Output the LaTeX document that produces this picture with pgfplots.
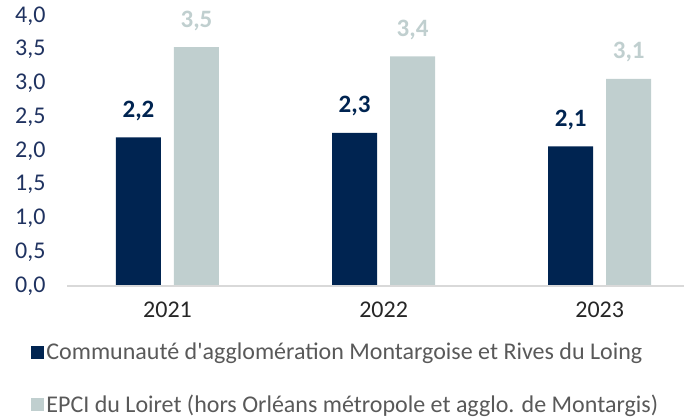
\documentclass[border=0pt]{standalone}
\usepackage{pgfplots}
\pgfplotsset{compat=1.18}
\usepackage{fontspec}
\setmainfont{Carlito}[Ligatures=TeXOff]
\definecolor{navy}{HTML}{002451}
\definecolor{lightb}{HTML}{C0CFCF}
\definecolor{ytc}{HTML}{1F3260}
\definecolor{legt}{HTML}{595959}
\definecolor{axl}{HTML}{D9D9D9}
\begin{document}
\begin{tikzpicture}
\begin{axis}[
  at={(67pt,133pt)}, anchor=south west,
  scale only axis, width=617pt, height=270pt,
  xmin=-0.465, xmax=2.39, ymin=0, ymax=4,
  axis line style={draw=none},
  axis x line*=bottom, axis y line*=left,
  ytick={0,0.5,...,4.0},
  xtick={0,1,2}, xticklabels={2021,2022,2023},
  major tick length=0pt,
  /pgf/number format/assume math mode=true,
  /pgf/number format/.cd, use comma, fixed, fixed zerofill, precision=1,
  /pgfplots/.cd,
  yticklabel style={font=\fontsize{24}{28}\selectfont, text=ytc, xshift=-18pt},
  xticklabel style={font=\fontsize{24}{28}\selectfont, text=black!85, yshift=-12pt},
  ybar, bar width=45pt,
  point meta=explicit,
  nodes near coords={\pgfmathprintnumber[use comma,fixed,fixed zerofill,precision=1]{\pgfplotspointmeta}},
  every node near coord/.append style={font=\bfseries\fontsize{25}{30}\selectfont, yshift=13pt},
  clip=false,
  legend style={draw=none, fill=none, at={(-0.058,-0.203)}, anchor=north west,
    font=\fontsize{24}{28}\selectfont, text=legt, row sep=29.5pt, inner sep=0pt,
    cells={anchor=west}},
  legend image code/.code={\fill[#1] (0pt,-6.5pt) rectangle (13pt,6.5pt);},
]
\addplot[fill=navy, draw=none, bar shift=-29pt, every node near coord/.append style={text=navy}]
  table[meta=l] {
x y l
0 2.20 2.2
1 2.27 2.3
2 2.07 2.1
};
\addplot[fill=lightb, draw=none, bar shift=29pt, every node near coord/.append style={text=lightb}]
  table[meta=l] {
x y l
0 3.54 3.5
1 3.40 3.4
2 3.07 3.1
};
\legend{Communauté d'agglomération Montargoise et Rives du Loing, EPCI du Loiret (hors Orléans métropole et agglo. de Montargis)}
\draw[axl, line width=1.5pt] (axis cs:-0.465,0) -- (axis cs:2.39,0);
\end{axis}
\pgfresetboundingbox
\path[use as bounding box] (0,0) rectangle (684pt,419pt);
\end{tikzpicture}
\end{document}
